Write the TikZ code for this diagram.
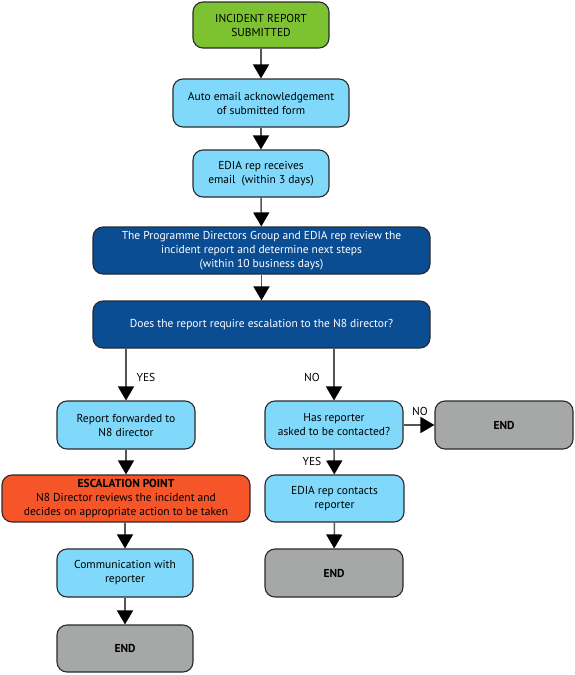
\documentclass[tikz,border=0pt]{standalone}
\usepackage{fontspec}
\setmainfont{PT Sans}
\usetikzlibrary{arrows.meta}
\definecolor{cgreen}{HTML}{7DC231}
\definecolor{clight}{HTML}{80D9FB}
\definecolor{cdark}{HTML}{0B4D93}
\definecolor{corange}{HTML}{F6552A}
\definecolor{cgray}{HTML}{A6A8A7}
\definecolor{cline}{HTML}{555555}
\definecolor{cborder}{HTML}{2A2A2A}
\begin{document}
\begin{tikzpicture}[x=1pt,y=-1pt,
  box/.style={draw=cborder,line width=1.1pt,rounded corners=10pt,align=center,
    inner sep=0pt,font=\fontsize{11.5}{14}\selectfont},
  greenbox/.style={box,fill=cgreen},
  lightbox/.style={box,fill=clight},
  darkbox/.style={box,fill=cdark,text=white},
  orangebox/.style={box,fill=corange},
  graybox/.style={box,fill=cgray,font=\fontsize{11.5}{14}\selectfont\bfseries},
  flow/.style={draw=cline,line width=1.5pt,-{Triangle[width=16pt,length=14pt,fill=black,color=black]}},
  lbl/.style={font=\fontsize{11.5}{14}\selectfont,inner sep=0pt}]
\useasboundingbox (0,0) rectangle (574,675);
\node[greenbox,minimum width=136pt,minimum height=46pt] (a) at (261,25) {INCIDENT REPORT\\SUBMITTED};
\node[lightbox,minimum width=176pt,minimum height=48pt] (b) at (261,103) {Auto email acknowledgement\\of submitted form};
\node[lightbox,minimum width=136pt,minimum height=47pt] (c) at (261,173.5) {EDIA rep receives\\email\ \ (within 3 days)};
\node[darkbox,minimum width=337pt,minimum height=47pt] (d) at (261.5,250.5) {The Programme Directors Group and EDIA rep review the\\incident report and determine next steps\\(within 10 business days)};
\node[darkbox,minimum width=337pt,minimum height=47pt] (e) at (261.5,324.5) {Does the report require escalation to the N8 director?};
\node[lightbox,minimum width=138pt,minimum height=48pt] (f) at (126,425) {Report forwarded to\\N8 director};
\node[orangebox,minimum width=248pt,minimum height=47pt] (g) at (126,498.5) {\textbf{ESCALATION POINT}\\N8 Director reviews the incident and\\decides on appropriate action to be taken};
\node[lightbox,minimum width=136pt,minimum height=48pt] (h) at (125,573) {Communication with\\reporter};
\node[graybox,minimum width=136pt,minimum height=47pt] (i) at (125,648.5) {END};
\node[lightbox,minimum width=138pt,minimum height=48pt] (j) at (334,425) {Has reporter\\asked to be contacted?};
\node[graybox,minimum width=138pt,minimum height=48pt] (k) at (504,425) {END};
\node[lightbox,minimum width=139pt,minimum height=47pt] (l) at (334.5,498.5) {EDIA rep contacts\\reporter};
\node[graybox,minimum width=138pt,minimum height=48pt] (m) at (334,573) {END};
\draw[flow] (a) -- (b);
\draw[flow] (b) -- (c);
\draw[flow] (c) -- (d);
\draw[flow] (d) -- (e);
\draw[flow] (e.south -| f.north) -- (f.north);
\draw[flow] (e.south -| j.north) -- (j.north);
\draw[flow] (f) -- (g);
\draw[flow] (g.south -| h.north) -- (h.north);
\draw[flow] (h) -- (i);
\draw[flow] (j) -- (k);
\draw[flow] (j) -- (l);
\draw[flow] (l) -- (m);
\node[lbl] (yes1) at (146,377) {YES};
\node[lbl] (no1) at (312,377) {NO};
\node[lbl] (no2) at (420,411) {NO};
\node[lbl] (yes2) at (312,461) {YES};
\end{tikzpicture}
\end{document}
